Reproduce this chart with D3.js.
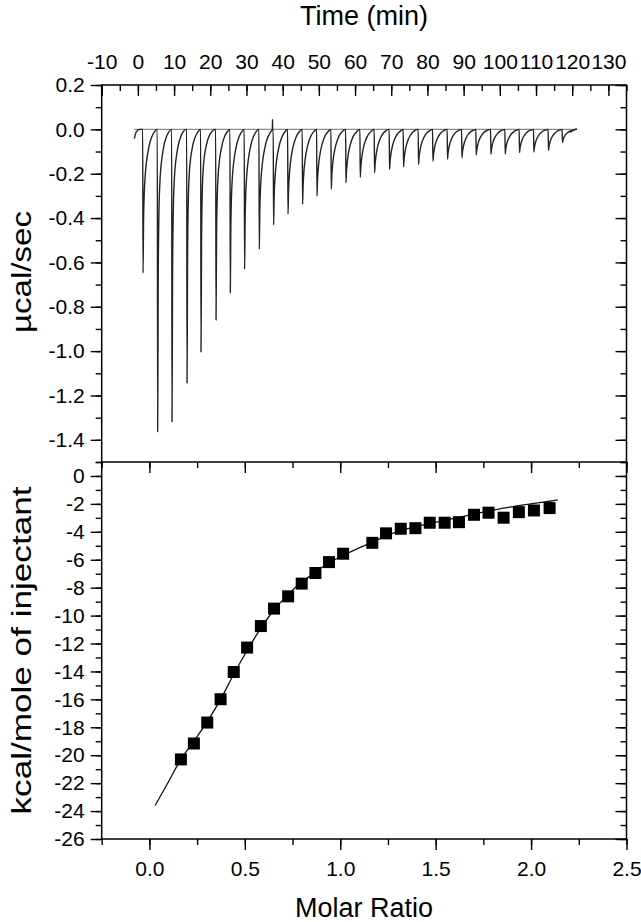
<!DOCTYPE html>
<html>
<head>
<meta charset="utf-8">
<script src="https://cdn.jsdelivr.net/npm/d3@7"></script>
<style>
  html, body { margin: 0; padding: 0; background: #fff; }
  svg text { font-family: Arial, "Liberation Sans", sans-serif; fill: #000; }
</style>
</head>
<body>
<svg id="chart" width="641" height="922"></svg>
<script>
// ---------------- DATA ----------------
// Top panel: raw ITC thermogram (Time, min  vs  µcal/sec)
const timeTicks = [-10, 0, 10, 20, 30, 40, 50, 60, 70, 80, 90, 100, 110, 120, 130];
const powerTicks = [0.2, 0.0, -0.2, -0.4, -0.6, -0.8, -1.0, -1.2, -1.4];
const injectionTimes = [1.32, 5.36, 9.33, 13.48, 17.34, 21.49, 25.43, 29.38, 33.44, 37.39,
  41.37, 45.40, 49.38, 53.33, 57.39, 61.34, 65.29, 69.43, 73.30, 77.44,
  81.42, 85.45, 89.43, 93.38, 97.44, 101.39, 105.34, 109.31, 113.35, 117.21];
const injectionPeaks = [-0.648, -1.364, -1.319, -1.144, -1.004, -0.860, -0.737, -0.631, -0.540, -0.431,
  -0.383, -0.338, -0.301, -0.270, -0.241, -0.216, -0.196, -0.180, -0.169, -0.158,
  -0.143, -0.134, -0.128, -0.116, -0.113, -0.111, -0.105, -0.102, -0.096, -0.060];
// Peak shapes: minutes after injection, and fraction of the peak depth
// for a small peak (right side of the run) and a large peak (start of the run)
const shapeTime  = [0, 0.1, 0.25, 0.45, 0.7, 1.0, 1.4, 1.9, 2.5, 3.2, 3.95];
const shapeSmall = [0, 1.0, 0.80, 0.64, 0.50, 0.38, 0.27, 0.17, 0.09, 0.035, 0];
const shapeLarge = [0, 1.0, 0.50, 0.28, 0.18, 0.125, 0.085, 0.05, 0.025, 0.008, 0];
const traceStart = [[-1.0, -0.042], [-0.4, -0.01], [0.6, 0.0]];
const traceEnd = [[119.5, -0.012], [120.4, -0.004], [121.2, 0.004]];
const spikeArtifact = { t: 37.2, v: 0.045 };
const baselineRange = [-1.0, 121.2];

// Bottom panel: integrated heats (Molar Ratio vs kcal/mole of injectant)
const molarTicks = [0.0, 0.5, 1.0, 1.5, 2.0, 2.5];
const heatTicks = [0, -2, -4, -6, -8, -10, -12, -14, -16, -18, -20, -22, -24, -26];
const molarRatio = [0.165, 0.233, 0.303, 0.373, 0.442, 0.512, 0.584, 0.653, 0.727, 0.798,
  0.870, 0.941, 1.015, 1.168, 1.240, 1.317, 1.394, 1.469, 1.547, 1.622,
  1.701, 1.777, 1.856, 1.936, 2.015, 2.097];
const heatValues = [-20.30, -19.16, -17.66, -15.99, -14.04, -12.29, -10.75, -9.50, -8.62, -7.71,
  -6.95, -6.17, -5.57, -4.79, -4.11, -3.78, -3.74, -3.35, -3.35, -3.31,
  -2.78, -2.63, -2.99, -2.59, -2.47, -2.30];
const fitMolar = [0.03, 0.10, 0.165, 0.233, 0.303, 0.373, 0.442, 0.512, 0.584, 0.653, 0.727, 0.798,
  0.870, 0.941, 1.015, 1.09, 1.168, 1.24, 1.317, 1.394, 1.469, 1.547, 1.622, 1.701, 1.777,
  1.856, 1.936, 2.015, 2.097, 2.140];
const fitHeat = [-23.6, -21.9, -20.3, -19.0, -17.6, -16.0, -14.2, -12.5, -10.9, -9.6, -8.5, -7.6,
  -6.9, -6.2, -5.7, -5.2, -4.75, -4.30, -3.92, -3.65, -3.40, -3.18, -2.96, -2.73, -2.50,
  -2.31, -2.12, -1.96, -1.81, -1.72];

// ---------------- LAYOUT ----------------
const L = 101.7, R = 626.5, topY = 85, midY = 462, botY = 839;
const svg = d3.select("#chart");

const tX = d3.scaleLinear([-10, 135], [L, R]);
const yTop = d3.scaleLinear([-1.5, 0.2], [midY, topY]);
const mX = d3.scaleLinear([-0.25, 2.5], [L, R]);
const yBot = d3.scaleLinear([-26, 1], [botY, midY]);

const tickFont = 21, titleFont = 27;
const major = 11, minor = 6;

function styleAxis(g) {
  g.select(".domain").remove();
  g.selectAll(".tick line").attr("stroke", "#000").attr("stroke-width", 1.4);
  g.selectAll("text").attr("font-size", tickFont).attr("font-family", "Arial, 'Liberation Sans', sans-serif").attr("fill", "#000");
  g.attr("font-family", null).attr("font-size", null);
}
function minorVals(lo, hi, step) {
  const out = [];
  const n = Math.round((hi - lo) / step);
  for (let i = 0; i <= n; i++) out.push(+(lo + i * step).toFixed(6));
  return out;
}

// ---- Top panel axes ----
const fmt1 = d3.format(".1f");
const hy = s => s.replace("−", "-");
svg.append("g").attr("transform", `translate(${L},0)`)
  .call(d3.axisLeft(yTop).tickValues(minorVals(-1.5, 0.2, 0.1)).tickSize(minor).tickFormat(""))
  .call(styleAxis);
svg.append("g").attr("transform", `translate(${L},0)`)
  .call(d3.axisLeft(yTop).tickValues(powerTicks).tickSize(major).tickPadding(6).tickFormat(d => hy(fmt1(d))))
  .call(styleAxis);
svg.append("g").attr("transform", `translate(${R},0)`)
  .call(d3.axisRight(yTop).tickValues(minorVals(-1.5, 0.2, 0.1)).tickSize(-minor).tickFormat(""))
  .call(styleAxis);
svg.append("g").attr("transform", `translate(${R},0)`)
  .call(d3.axisRight(yTop).tickValues(powerTicks).tickSize(-major).tickFormat(""))
  .call(styleAxis);
svg.append("g").attr("transform", `translate(0,${topY})`)
  .call(d3.axisTop(tX).tickValues(minorVals(-10, 135, 5)).tickSize(-minor).tickFormat(""))
  .call(styleAxis);
svg.append("g").attr("transform", `translate(0,${topY})`)
  .call(d3.axisTop(tX).tickValues(timeTicks).tickSize(-major).tickPadding(16).tickFormat(d => String(d)))
  .call(styleAxis);

// ---- Bottom panel axes ----
svg.append("g").attr("transform", `translate(${L},0)`)
  .call(d3.axisLeft(yBot).tickValues(minorVals(-26, 1, 1)).tickSize(minor).tickFormat(""))
  .call(styleAxis);
svg.append("g").attr("transform", `translate(${L},0)`)
  .call(d3.axisLeft(yBot).tickValues(heatTicks).tickSize(major).tickPadding(6).tickFormat(d => String(d)))
  .call(styleAxis);
svg.append("g").attr("transform", `translate(${R},0)`)
  .call(d3.axisRight(yBot).tickValues(minorVals(-26, 1, 1)).tickSize(-minor).tickFormat(""))
  .call(styleAxis);
svg.append("g").attr("transform", `translate(${R},0)`)
  .call(d3.axisRight(yBot).tickValues(heatTicks).tickSize(-major).tickFormat(""))
  .call(styleAxis);
svg.append("g").attr("transform", `translate(0,${botY})`)
  .call(d3.axisBottom(mX).tickValues(minorVals(-0.25, 2.5, 0.25)).tickSize(minor).tickFormat(""))
  .call(styleAxis);
svg.append("g").attr("transform", `translate(0,${botY})`)
  .call(d3.axisBottom(mX).tickValues(molarTicks).tickSize(major).tickPadding(11).tickFormat(d => fmt1(d)))
  .call(styleAxis);
svg.append("g").attr("transform", `translate(0,${midY})`)
  .call(d3.axisTop(mX).tickValues(minorVals(-0.25, 2.5, 0.25)).tickSize(-minor).tickFormat(""))
  .call(styleAxis);
svg.append("g").attr("transform", `translate(0,${midY})`)
  .call(d3.axisTop(mX).tickValues(molarTicks).tickSize(-major).tickFormat(""))
  .call(styleAxis);

// ---- Top panel data ----
const depthLo = 0.2, depthHi = 1.0;
const tracePts = [...traceStart];
injectionTimes.forEach((t0, i) => {
  const next = i < injectionTimes.length - 1 ? injectionTimes[i + 1] : Infinity;
  const d = injectionPeaks[i];
  const w = Math.max(0, Math.min(1, (Math.abs(d) - depthLo) / (depthHi - depthLo)));
  if (t0 + 0.05 > spikeArtifact.t && t0 - 0.4 < spikeArtifact.t) {
    tracePts.push([spikeArtifact.t - 0.05, 0], [spikeArtifact.t, spikeArtifact.v], [spikeArtifact.t + 0.05, 0]);
  }
  shapeTime.forEach((dt, k) => {
    const f = shapeSmall[k] * (1 - w) + shapeLarge[k] * w;
    if (t0 + dt < next - 0.02) tracePts.push([t0 + dt, d * f]);
  });
});
tracePts.push(...traceEnd);

svg.append("line")
  .attr("x1", tX(baselineRange[0])).attr("x2", tX(baselineRange[1]))
  .attr("y1", yTop(0)).attr("y2", yTop(0))
  .attr("stroke", "#8a8a8a").attr("stroke-width", 1.3);

svg.append("path")
  .datum(tracePts)
  .attr("fill", "none").attr("stroke", "#222").attr("stroke-width", 1.4)
  .attr("stroke-linejoin", "round")
  .attr("d", d3.line().x(d => tX(d[0])).y(d => yTop(d[1])).curve(d3.curveMonotoneX));

// ---- Bottom panel data ----
const fitPts = fitMolar.map((m, i) => [m, fitHeat[i]]);
svg.append("path")
  .datum(fitPts)
  .attr("fill", "none").attr("stroke", "#111").attr("stroke-width", 1.3)
  .attr("d", d3.line().x(d => mX(d[0])).y(d => yBot(d[1])).curve(d3.curveCatmullRom));

const sq = 12;
svg.append("g").selectAll("rect")
  .data(molarRatio.map((m, i) => [m, heatValues[i]]))
  .join("rect")
  .attr("x", d => mX(d[0]) - sq / 2).attr("y", d => yBot(d[1]) - sq / 2)
  .attr("width", sq).attr("height", sq).attr("fill", "#000");

// ---- Frame ----
svg.append("rect").attr("x", L).attr("y", topY).attr("width", R - L).attr("height", botY - topY)
  .attr("fill", "none").attr("stroke", "#000").attr("stroke-width", 1.5);
svg.append("line").attr("x1", L).attr("x2", R).attr("y1", midY).attr("y2", midY)
  .attr("stroke", "#000").attr("stroke-width", 1.5);

// ---- Titles ----
svg.append("text").attr("x", (L + R) / 2).attr("y", 25).attr("text-anchor", "middle")
  .attr("font-size", titleFont).text("Time (min)");
svg.append("text").attr("x", (L + R) / 2).attr("y", 917).attr("text-anchor", "middle")
  .attr("font-size", titleFont).text("Molar Ratio");
svg.append("text").attr("transform", `translate(31,272) rotate(-90)`)
  .attr("text-anchor", "middle").attr("font-size", titleFont)
  .attr("textLength", 122).attr("lengthAdjust", "spacingAndGlyphs").text("µcal/sec");
svg.append("text").attr("transform", `translate(31,${(midY + botY) / 2}) rotate(-90)`)
  .attr("text-anchor", "middle").attr("font-size", titleFont)
  .attr("textLength", 328).attr("lengthAdjust", "spacingAndGlyphs").text("kcal/mole of injectant");
</script>
</body>
</html>
